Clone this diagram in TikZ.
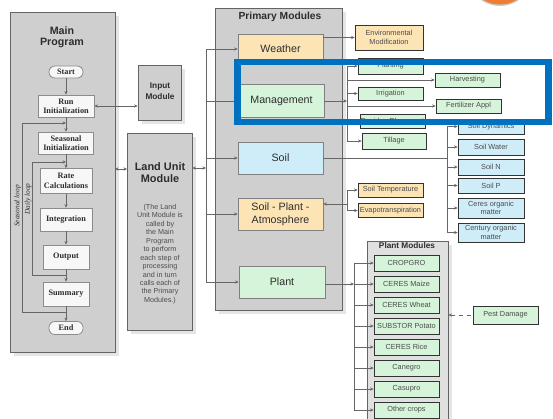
\documentclass[tikz,border=0pt]{standalone}
\usepackage{fontspec}
\setmainfont{Liberation Sans}
\newfontfamily\tnr{Liberation Serif}
\usetikzlibrary{arrows.meta,shadows}
\definecolor{panel}{RGB}{207,207,207}
\definecolor{edge}{RGB}{100,100,100}
\definecolor{tan}{RGB}{252,228,180}
\definecolor{mint}{RGB}{214,244,218}
\definecolor{sky}{RGB}{206,237,248}
\definecolor{txt}{RGB}{45,45,45}
\definecolor{hl}{RGB}{0,112,192}
\definecolor{orng}{RGB}{237,125,49}
\newcommand\fs[2]{\fontsize{#1}{#2}\selectfont}
\begin{document}
\begin{tikzpicture}[x=0.75pt,y=-0.75pt,
  >={Stealth[length=2.6pt,width=2.4pt]},
  sz/.style 2 args={minimum width=#1*0.75pt,minimum height=#2*0.75pt},
  shd/.style={drop shadow={shadow xshift=3pt,shadow yshift=-3pt,fill=black!10,opacity=1}},
  panelbox/.style={draw=edge,fill=panel,line width=0.6pt,inner sep=0pt,shd},
  mainbox/.style={draw=black!45,fill=black!3,inner sep=0pt,align=center,text=txt,font=\tnr\bfseries\fs{6.2}{7},line width=0.6pt},
  ovalbox/.style={mainbox,rounded corners=4.4pt},
  prim/.style={draw=black!50,inner sep=0pt,align=center,text=txt,font=\fs{8}{9.4},line width=0.6pt},
  smallbox/.style={draw=black!80,inner sep=0pt,align=center,text=black!70,font=\fs{5.5}{6.4},line width=0.6pt},
  conn/.style={draw=black!60,line width=0.5pt},
  title/.style={font=\bfseries\fs{8}{8.6},text=txt,align=center,inner sep=0pt},
]
\useasboundingbox (0,0) rectangle (553,418);
\fill[white] (0,0) rectangle (553,418);

% orange circle (top right, cut off)
\fill[black!20] (500,-26.5) circle [radius=24.4pt];
\fill[orng] (500,-28) circle [radius=24.4pt];

% ---------- panels ----------
\node[panelbox,sz={105}{340}] (main) at (62.5,182) {};
\node[panelbox,sz={43}{55}] (input) at (159.5,92.5) {};
\node[panelbox,sz={65}{197}] (land) at (159.5,231.5) {};
\node[panelbox,sz={127}{302}] (prim) at (278.5,159) {};
\node[panelbox,sz={81}{179},fill=black!12] (plantpanel) at (407.5,330.5) {};

\node[title] (maintitle) at (62,37.5) {Main\\Program};
\node[title,font=\bfseries\fs{6.2}{8}] (inputtitle) at (160,91.5) {Input\\Module};
\node[title,font=\bfseries\fs{8.2}{8.4}] (landtitle) at (160,172.5) {Land Unit\\Module};
\node[inner sep=0pt,align=center,text=black!70,font=\fs{5.4}{6.35}] (landdesc) at (160,254)
  {(The Land\\Unit Module is\\called by\\the Main\\Program\\to perform\\each step of\\processing\\and in turn\\calls each of\\the Primary\\Modules.)};
\node[title,font=\bfseries\fs{7.7}{8}] (primtitle) at (280,17) {Primary Modules};
\node[title,font=\bfseries\fs{6.2}{7}] (planttitle) at (407,246) {Plant Modules};

% ---------- main program ----------
\node[ovalbox,sz={34}{12}] (start) at (66,72) {Start};
\node[mainbox,sz={56}{22}] (run) at (66,106) {Run\\Initialization};
\node[mainbox,sz={55}{22}] (seas) at (66,143) {Seasonal\\Initialization};
\node[mainbox,sz={52}{25}] (rate) at (66,181) {Rate\\Calculations};
\node[mainbox,sz={52}{23}] (integ) at (66,219.5) {Integration};
\node[mainbox,sz={46}{24}] (output) at (66,257) {Output};
\node[mainbox,sz={46}{24}] (summary) at (66,294) {Summary};
\node[ovalbox,sz={34}{13}] (end) at (66,328) {End};

\draw[conn,->] (start) -- (run);
\draw[conn,->] (run) -- (seas);
\draw[conn,->] (seas) -- (rate);
\draw[conn,->] (rate) -- (integ);
\draw[conn,->] (integ) -- (output);
\draw[conn,->] (output) -- (summary);
\draw[conn,->] (summary) -- (end);

\coordinate (sltop) at (66,123);
\coordinate (slbot) at (66,312);
\coordinate (dltop) at (66,162);
\coordinate (dlbot) at (66,275);
\draw[conn,->] (slbot) -- ++(-44,0) |- (sltop);
\draw[conn,->] (dlbot) -- ++(-34,0) |- (dltop);
\node[rotate=90,inner sep=0pt,font=\tnr\itshape\fs{5.5}{6},text=txt] (sllabel) at (17.5,206) {Seasonal loop};
\node[rotate=90,inner sep=0pt,font=\tnr\itshape\fs{5.5}{6},text=txt] (dllabel) at (28,199) {Daily loop};

% main <-> input, main <-> land
\draw[conn,<->] (run.east) -- (input.west |- run.east);
\coordinate (mpout) at (115,169);
\coordinate (luin) at (127,169);
\draw[conn,<->] (mpout) -- (luin);

% ---------- primary modules ----------
\node[prim,fill=tan,sz={85}{30}] (weather) at (280.5,49) {Weather};
\node[prim,fill=mint,sz={85}{33}] (mgmt) at (281.5,101) {Management};
\node[prim,fill=sky,sz={85}{32}] (soil) at (280.5,158) {Soil};
\node[prim,fill=tan,sz={85}{32}] (spa) at (280.5,214) {Soil - Plant -\\Atmosphere};
\node[prim,fill=mint,sz={86}{32}] (plant) at (282,282) {Plant};

\coordinate (bus) at (206,168);
\draw[conn,<->] (land.east |- bus) -- (bus);
\draw[conn] (bus |- weather) -- (bus |- plant);
\draw[conn,->] (bus |- weather) -- (weather);
\draw[conn,->] (bus |- mgmt) -- (mgmt);
\draw[conn,->] (bus |- soil) -- (soil);
\draw[conn,->] (bus |- spa) -- (spa);
\draw[conn,->] (bus |- plant) -- (plant);

% ---------- weather ----------
\node[smallbox,fill=tan,sz={68}{25}] (env) at (389,37.5) {Environmental\\Modification};
\draw[conn,->] (weather.east |- env) -- (env);

% ---------- management ----------
\node[smallbox,fill=mint,sz={65}{16}] (planting) at (390.5,66) {Planting};
\node[smallbox,fill=mint,sz={65}{14}] (harvest) at (467.5,80) {Harvesting};
\node[smallbox,fill=mint,sz={65}{13}] (irrig) at (390.5,93.5) {Irrigation};
\node[smallbox,fill=mint,sz={65}{14}] (fert) at (468.5,106) {Fertilizer Appl};
\node[smallbox,fill=mint,sz={65}{14}] (residue) at (392.5,121) {Residue Placement};
\node[smallbox,fill=mint,sz={64}{16}] (tillage) at (394,141) {Tillage};
\coordinate (mbus) at (347,101);
\draw[conn,->] (mgmt.east) -- (mbus);
\draw[conn] (mbus |- planting) -- (mbus |- tillage);
\draw[conn,->] (mbus |- planting) -- (planting);
\draw[conn,->] (mbus |- harvest) -- (harvest);
\draw[conn,->] (mbus |- irrig) -- (irrig);
\draw[conn,->] (mbus |- fert) -- (fert);
\draw[conn,->] (mbus |- residue) -- (residue);
\draw[conn,->] (mbus |- tillage) -- (tillage);

% ---------- soil ----------
\node[smallbox,fill=sky,sz={66}{15}] (sdyn) at (491,126.5) {Soil Dynamics};
\node[smallbox,fill=sky,sz={66}{16}] (swat) at (491,147) {Soil Water};
\node[smallbox,fill=sky,sz={66}{16}] (sn) at (491,167) {Soil N};
\node[smallbox,fill=sky,sz={66}{15}] (sp) at (491,185.5) {Soil P};
\node[smallbox,fill=sky,sz={66}{20}] (ceres) at (491,208) {Ceres organic\\matter};
\node[smallbox,fill=sky,sz={66}{19}] (century) at (491,232.5) {Century organic\\matter};
\coordinate (sbus) at (447,158);
\draw[conn] (soil.east) -- (sbus);
\draw[conn] (sbus |- sdyn) -- (sbus |- century);
\draw[conn,->] (sbus |- sdyn) -- (sdyn);
\draw[conn,->] (sbus |- swat) -- (swat);
\draw[conn,->] (sbus |- sn) -- (sn);
\draw[conn,->] (sbus |- sp) -- (sp);
\draw[conn,->] (sbus |- ceres) -- (ceres);
\draw[conn,->] (sbus |- century) -- (century);

% ---------- soil-plant-atmosphere ----------
\node[smallbox,fill=tan,sz={65}{14}] (stemp) at (390.5,190) {Soil Temperature};
\node[smallbox,fill=tan,sz={65}{14}] (evap) at (390.5,210.5) {Evapotranspiration};
\coordinate (spabus) at (347,204);
\draw[conn,<-] (spa.east |- spabus) -- (spabus);
\draw[conn] (spabus |- stemp) -- (spabus |- evap);
\draw[conn,->] (spabus |- stemp) -- (stemp);
\draw[conn,->] (spabus |- evap) -- (evap);

% ---------- plant ----------
\node[smallbox,fill=mint,sz={65}{16}] (cropgro) at (406.5,263) {CROPGRO};
\node[smallbox,fill=mint,sz={65}{16}] (maize) at (406.5,284) {CERES Maize};
\node[smallbox,fill=mint,sz={65}{16}] (wheat) at (406.5,305) {CERES Wheat};
\node[smallbox,fill=mint,sz={65}{16}] (potato) at (406.5,326) {SUBSTOR Potato};
\node[smallbox,fill=mint,sz={65}{16}] (rice) at (406.5,347) {CERES Rice};
\node[smallbox,fill=mint,sz={65}{16}] (canegro) at (406.5,368) {Canegro};
\node[smallbox,fill=mint,sz={65}{16}] (casupro) at (406.5,389) {Casupro};
\node[smallbox,fill=mint,sz={65}{16}] (other) at (406.5,410) {Other crops};
\coordinate (pbus) at (354,284);
\draw[conn,->] (plant.east |- pbus) -- (pbus);
\draw[conn] (pbus |- cropgro) -- (pbus |- other);
\foreach \n in {cropgro,maize,wheat,potato,rice,canegro,casupro,other}
  \draw[conn,->] (pbus |- \n) -- (\n);

\node[smallbox,fill=mint,sz={65}{18}] (pest) at (505.5,315) {Pest Damage};
\draw[conn,dashed,<-] (plantpanel.east |- pest) -- (pest);

% ---------- highlight ----------
\draw[hl,line width=4.6pt] (237.5,61.8) rectangle (548.5,121.6);
\end{tikzpicture}
\end{document}
